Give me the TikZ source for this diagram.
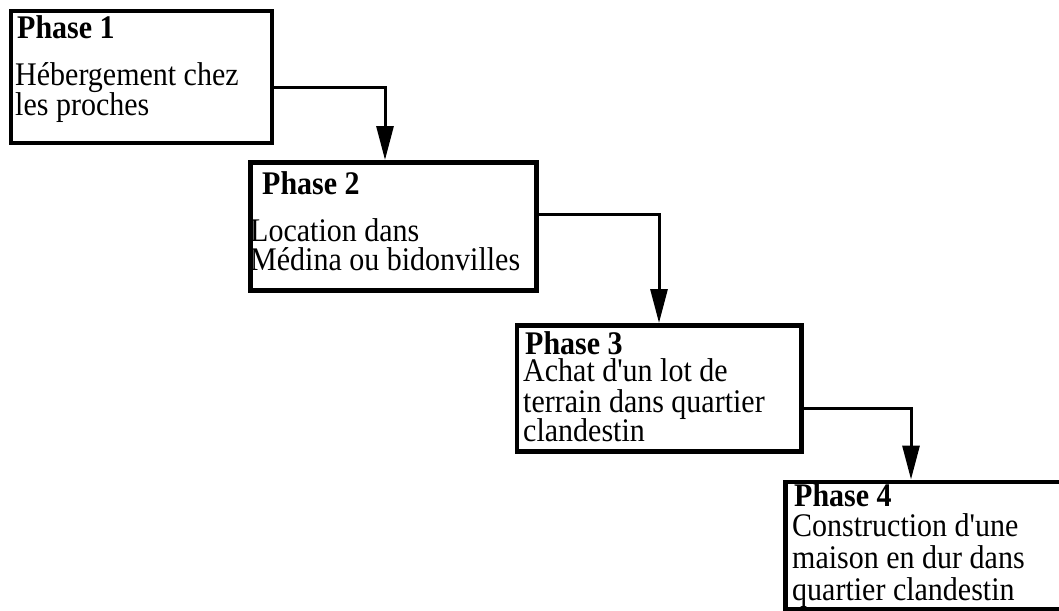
\documentclass[tikz,border=0pt]{standalone}
\usepackage{graphicx}
\usepackage{fontspec}
\setmainfont{Liberation Serif}
\usetikzlibrary{arrows.meta}
\newcommand\stx[1]{\scalebox{1}[1.1]{#1}}
\begin{document}
\begin{tikzpicture}[x=1pt,y=-1pt,
  phasebox/.style={draw=black,line width=4.5pt,inner sep=0pt,anchor=north west},
  txt/.style={anchor=base west,inner sep=0pt,font=\fontsize{30}{33}\selectfont},
  ttl/.style={txt,font=\fontsize{30}{33}\selectfont\bfseries},
  conn/.style={draw=black,line width=3pt,-{Triangle[length=34pt,width=17pt]}}]
\useasboundingbox (0,0) rectangle (1059,610);
% boxes
\node[phasebox,minimum width=261pt,minimum height=131.5pt] (b1) at (8.5,9) {};
\node[phasebox,minimum width=286pt,minimum height=128pt] (b2) at (248,160) {};
\node[phasebox,minimum width=284.5pt,minimum height=126pt] (b3) at (514.5,323) {};
\node[phasebox,minimum width=300pt,minimum height=127.5pt] (b4) at (783,479.5) {};
% texts
\node[ttl] (t1) at (17,38) {\stx{Phase 1}};
\node[txt] (l11) at (15,85) {\stx{Hébergement chez}};
\node[txt] (l12) at (15,115) {\stx{les proches}};
\node[ttl] (t2) at (262,194) {\stx{Phase 2}};
\node[txt] (l21) at (250,241) {\stx{Location dans}};
\node[txt] (l22) at (250,270) {\stx{Médina ou bidonvilles}};
\node[ttl] (t3) at (525,354) {\stx{Phase 3}};
\node[txt] (l31) at (523,381) {\stx{Achat d\textquotesingle un lot de}};
\node[txt] (l32) at (523,412) {\stx{terrain dans quartier}};
\node[txt] (l33) at (523,441) {\stx{clandestin}};
\node[ttl] (t4) at (794,506) {\stx{Phase 4}};
\node[txt] (l41) at (792,536) {\stx{Construction d\textquotesingle une}};
\node[txt] (l42) at (792,568) {\stx{maison en dur dans}};
\node[txt] (l43) at (792,600) {\stx{quartier clandestin}};
% connectors
\coordinate (k1) at (385,87.5);
\coordinate (k2) at (659,214);
\coordinate (k3) at (911,408.5);
\draw[conn] (b1.east |- k1) -- (k1) -- (k1 |- b2.north);
\draw[conn] (b2.east |- k2) -- (k2) -- (k2 |- b3.north);
\draw[conn] (b3.east |- k3) -- (k3) -- (k3 |- b4.north);
\end{tikzpicture}
\end{document}
